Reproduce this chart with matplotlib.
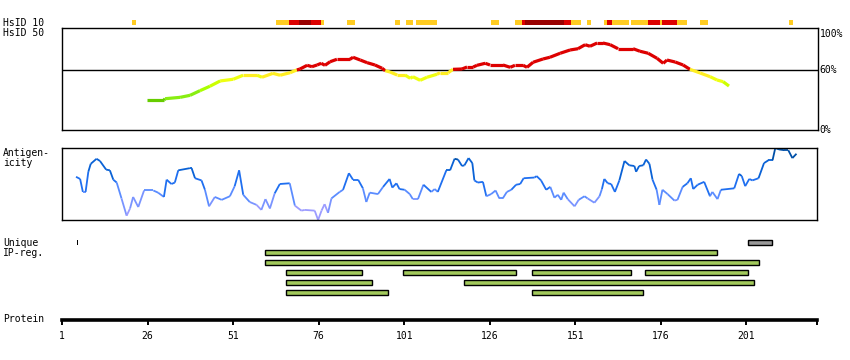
import numpy as np
import matplotlib
matplotlib.use('Agg')
import matplotlib.pyplot as plt
from matplotlib.collections import LineCollection
from matplotlib.colors import ListedColormap, BoundaryNorm

plt.rcParams['font.family'] = ['DejaVu Sans Mono']
plt.rcParams['font.size'] = 7

PROT_LEN = 222

# HsID 10 strip: (start, end, level) level 1=orange, 2=red, 3=dark red
hsid10 = [
    (21.5, 22.6, 1), (63.5, 67.3, 1), (67.3, 70.2, 2), (70.2, 73.7, 3), (73.7, 76.6, 2),
    (76.6, 77.4, 1), (84.2, 86.6, 1), (98.3, 99.7, 1), (101.5, 103.5, 1), (104.4, 110.5, 1),
    (126.3, 128.6, 1), (133.3, 135.4, 1), (135.4, 136.2, 2), (136.2, 147.6, 3), (147.6, 149.7, 2),
    (149.7, 152.6, 1), (154.4, 155.5, 1), (159.3, 160.2, 1), (160.2, 161.7, 2), (161.7, 166.6, 1),
    (167.2, 172.2, 1), (172.2, 175.7, 2), (175.7, 176.3, 1), (176.3, 180.6, 2), (180.6, 183.6, 1),
    (187.4, 189.7, 1), (213.4, 214.5, 1),
]
hsid_colors = {1: '#ffcc22', 2: '#dd0000', 3: '#990000'}

# HsID 50 identity (%)
ident_pos = [25.8, 30.8, 31.1, 35.5, 38.4, 41.3, 44.2, 47.2, 51.0, 53.9, 58.0, 59.4, 62.6, 64.7,
             67.6, 69.6, 70.5, 72.6, 74.0, 75.5, 76.7, 77.8, 79.3, 81.3, 85.1, 86.0, 88.1, 90.1,
             92.4, 94.5, 95.4, 96.8, 98.9, 101.2, 102.7, 103.5, 105.6, 107.6, 110.5, 111.4, 113.8,
             115.2, 117.8, 119.3, 121.1, 122.2, 124.6, 126.0, 129.8, 131.9, 133.3, 135.7, 136.8,
             138.6, 141.5, 143.5, 146.5, 149.4, 151.7, 153.8, 155.2, 157.3, 159.0, 161.1, 163.4,
             167.8, 169.8, 172.2, 174.8, 176.6, 177.7, 180.1, 182.4, 184.4, 187.4, 190.3, 192.3,
             194.1, 195.8]
ident_val = [31.9, 31.9, 33.1, 34.4, 36.3, 40.7, 44.9, 49.9, 51.5, 55.3, 55.3, 53.4, 57.1, 55.3,
             57.7, 60.3, 61.2, 64.7, 63.4, 65.0, 66.6, 64.7, 68.1, 70.4, 70.4, 72.3, 69.7, 67.2,
             65.0, 61.9, 59.6, 58.4, 55.5, 55.5, 52.4, 53.9, 50.5, 53.4, 56.2, 57.7, 57.7,
             60.9, 61.2, 63.1, 63.1, 64.7, 66.6, 65.0, 65.0, 62.8, 64.7, 64.7, 62.8,
             67.6, 70.7, 72.3, 76.1, 79.2, 80.4, 84.2, 82.7, 85.8, 85.8, 84.2, 80.4,
             80.4, 78.0, 76.1, 71.3, 66.6, 69.7, 67.8, 65.0, 60.9, 57.4, 53.9, 50.8,
             49.2, 45.1]

# Antigenicity (0..1)
anti_pos = [5.1, 6.3, 7.1, 7.9, 8.7, 9.4, 11.1, 12.1, 13.9, 15.0, 16.0, 17.0, 18.4, 19.9, 20.9,
            21.8, 23.3, 25.0, 27.7, 29.1, 30.8, 31.6, 33.0, 34.0, 35.0, 38.4, 38.9, 39.9, 41.8,
            42.8, 44.0, 45.7, 47.7, 50.1, 51.5, 52.8, 54.0, 55.9, 57.9, 59.3, 60.5, 61.8, 63.2,
            64.7, 67.6, 69.1, 71.0, 72.0, 74.9, 75.9, 76.9, 77.8, 78.8, 79.8, 82.2, 83.2, 84.9,
            86.1, 87.6, 89.0, 90.0, 91.0, 93.4, 94.9, 96.8, 97.6, 98.8, 99.7, 101.2, 102.7, 103.6,
            105.1, 106.7, 109.0, 110.0, 110.9, 113.4, 114.5, 115.8, 116.8, 118.0, 118.7, 119.9,
            121.0, 121.6, 122.6, 124.1, 125.1, 126.5, 127.8, 128.9, 129.9, 131.1, 132.4, 133.8,
            135.0, 136.0, 139.2, 139.8, 141.1, 142.6, 143.8, 145.0, 146.0, 147.0, 147.7, 148.9,
            150.9, 152.1, 153.8, 154.7, 156.7, 158.2, 158.9, 159.6, 160.6, 161.6, 162.7, 164.0,
            165.5, 166.9, 168.4, 168.9, 169.8, 171.0, 171.8, 172.8, 173.7, 174.9, 175.7, 176.6,
            178.1, 180.1, 181.0, 182.5, 183.9, 184.9, 185.6, 186.9, 188.8, 190.5, 191.2, 192.7,
            193.7, 197.6, 199.0, 199.8, 200.8, 202.0, 202.9, 204.7, 206.3, 207.6, 208.8, 209.6,
            210.7, 212.2, 213.4, 214.6, 215.8]
anti_val = [0.60, 0.57, 0.39, 0.39, 0.67, 0.78, 0.85, 0.82, 0.70, 0.69, 0.56, 0.52, 0.30, 0.06, 0.16,
            0.32, 0.18, 0.41, 0.41, 0.38, 0.32, 0.56, 0.50, 0.52, 0.69, 0.72, 0.72, 0.58, 0.55,
            0.42, 0.19, 0.32, 0.28, 0.33, 0.47, 0.69, 0.35, 0.25, 0.21, 0.14, 0.29, 0.16, 0.37,
            0.50, 0.51, 0.20, 0.13, 0.14, 0.13, 0.00, 0.13, 0.22, 0.10, 0.30, 0.39, 0.42, 0.65,
            0.56, 0.56, 0.44, 0.25, 0.38, 0.36, 0.46, 0.57, 0.45, 0.51, 0.43, 0.42, 0.36, 0.29,
            0.29, 0.49, 0.39, 0.43, 0.39, 0.69, 0.69, 0.85, 0.84, 0.75, 0.76, 0.86,
            0.79, 0.55, 0.52, 0.53, 0.33, 0.36, 0.41, 0.30, 0.30, 0.39, 0.42, 0.49,
            0.50, 0.58, 0.59, 0.61, 0.55, 0.42, 0.46, 0.31, 0.35, 0.28, 0.38, 0.29,
            0.19, 0.28, 0.33, 0.30, 0.24, 0.33, 0.43, 0.57, 0.51, 0.50, 0.39, 0.55,
            0.82, 0.76, 0.75, 0.67, 0.75, 0.76, 0.84, 0.78, 0.56, 0.42, 0.21, 0.42,
            0.36, 0.27, 0.28, 0.46, 0.51, 0.58, 0.43, 0.49, 0.53, 0.33, 0.39, 0.29,
            0.42, 0.44, 0.64, 0.61, 0.47, 0.57, 0.55, 0.58, 0.79, 0.83, 0.83, 1.00,
            0.98, 0.97, 0.97, 0.86, 0.92]

# Unique IP regions: rows of (start, end)
ip_green_rows = [
    [],
    [(60.4, 192.4)],
    [(60.4, 204.5)],
    [(66.5, 88.5), (100.5, 133.5), (138.4, 167.3), (171.4, 201.5)],
    [(66.5, 91.5), (118.5, 203.2)],
    [(66.5, 96.3), (138.4, 170.6)],
]
ip_grey = (201.5, 208.5)
ip_mark = 5.4

xticks = [1, 26, 51, 76, 101, 126, 151, 176, 201]

W, H = 850, 360
fig = plt.figure(figsize=(W / 100, H / 100), dpi=100)


def box(x0, y0, x1, y1):
    # pixel box -> figure fraction rect
    return [x0 / W, 1 - y1 / H, (x1 - x0) / W, (y1 - y0) / H]


XL = (1, 221.8)
LW1 = 0.72 * 1.4

# HsID 10 strip
ax_s = fig.add_axes(box(62, 20, 818, 25))
for s, e, lev in hsid10:
    ax_s.axvspan(s, e, color=hsid_colors[lev], lw=0)
ax_s.set_xlim(*XL)
ax_s.axis('off')

# identity panel
ax_i = fig.add_axes(box(62, 28, 818, 130))
ax_i.set_xlim(*XL)
ax_i.set_ylim(3.5, 100)
ax_i.axhline(60, color='black', lw=LW1)
pts = np.column_stack([ident_pos, ident_val]).reshape(-1, 1, 2)
segs = np.concatenate([pts[:-1], pts[1:]], axis=1)
mid = (np.array(ident_val[:-1]) + np.array(ident_val[1:])) / 2
icmap = ListedColormap(['#66cc00', '#88ee11', '#aaff00', '#ccff00', '#eeff11', '#ffee22', '#dd0000'])
inorm = BoundaryNorm([0, 33, 40, 45, 50, 55, 59.8, 101], icmap.N)
lc = LineCollection(segs, cmap=icmap, norm=inorm, linewidths=2.3, capstyle='butt')
lc.set_array(mid)
ax_i.add_collection(lc)
ax_i.set_xticks([])
ax_i.set_yticks([])
for sp in ax_i.spines.values():
    sp.set_linewidth(LW1)
ax_i.text(1.002, 0.995, '100%', transform=ax_i.transAxes, va='top', ha='left')
ax_i.text(1.002, 60, '60%', transform=ax_i.get_yaxis_transform(), va='center', ha='left')
ax_i.text(1.002, 0.0, '0%', transform=ax_i.transAxes, va='center', ha='left')

# antigenicity panel
ax_a = fig.add_axes(box(62, 148, 817, 220))
ax_a.set_xlim(*XL)
ax_a.set_ylim(0, 1)
pts = np.column_stack([anti_pos, anti_val]).reshape(-1, 1, 2)
segs = np.concatenate([pts[:-1], pts[1:]], axis=1)
mid = (np.array(anti_val[:-1]) + np.array(anti_val[1:])) / 2
acmap = ListedColormap(['#9c9cff', '#7a94ff', '#5b8cff', '#1f6ff0', '#0a62d6', '#0050a8'])
anorm = BoundaryNorm([0, 0.18, 0.3, 0.42, 0.62, 0.84, 1.01], acmap.N)
lc = LineCollection(segs, cmap=acmap, norm=anorm, linewidths=1.3)
lc.set_array(mid)
ax_a.add_collection(lc)
ax_a.set_xticks([])
ax_a.set_yticks([])
for sp in ax_a.spines.values():
    sp.set_linewidth(LW1)

# unique IP regions
ax_u = fig.add_axes(box(62, 237.5, 818, 297.5))
ax_u.set_xlim(*XL)
ax_u.set_ylim(5.5, -0.5)
for row, spans in enumerate(ip_green_rows):
    for s, e in spans:
        ax_u.barh(row, e - s, left=s, height=0.45, color='#a2c95c', edgecolor='black', lw=LW1)
ax_u.barh(0, ip_grey[1] - ip_grey[0], left=ip_grey[0], height=0.45, color='#999999',
          edgecolor='black', lw=LW1)
ax_u.barh(0, 0.3, left=ip_mark, height=0.45, color='black', lw=0)
ax_u.axis('off')

# protein axis
ax_p = fig.add_axes(box(62, 310, 817, 319.5))
ax_p.set_xlim(1, 221.6)
for k in ['top', 'left', 'right']:
    ax_p.spines[k].set_visible(False)
ax_p.spines['bottom'].set_linewidth(2.6)
ax_p.set_yticks([])
ax_p.set_xticks(xticks + [221.6])
ax_p.set_xticklabels([str(t) for t in xticks] + [''])
ax_p.tick_params(axis='x', direction='out', length=3.5, width=1.4, pad=5)
ax_p.patch.set_alpha(0)

# left labels
fig.text(3 / W, 1 - 22.5 / H, 'HsID 10', va='center')
fig.text(3 / W, 1 - 32.5 / H, 'HsID 50', va='center')
fig.text(3 / W, 1 - 158 / H, 'Antigen-\nicity', va='center', linespacing=1.0)
fig.text(3 / W, 1 - 248 / H, 'Unique\nIP-reg.', va='center', linespacing=1.0)
fig.text(3 / W, 1 - 319.5 / H, 'Protein', va='center')

plt.savefig('out.png', dpi=100)
